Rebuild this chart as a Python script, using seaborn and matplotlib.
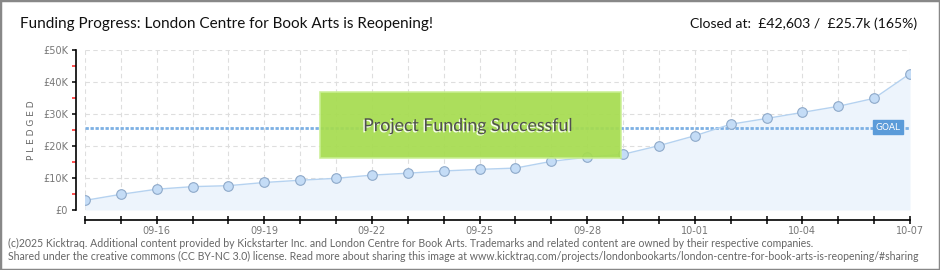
import matplotlib
matplotlib.use("Agg")
import matplotlib.pyplot as plt
import matplotlib.patheffects as pe
from matplotlib.patches import Rectangle
from matplotlib.ticker import FixedLocator, FuncFormatter
import seaborn as sns
import pandas as pd

# ---- data ----
dates = ["2025-09-14", "2025-09-15", "2025-09-16", "2025-09-17", "2025-09-18", "2025-09-19",
         "2025-09-20", "2025-09-21", "2025-09-22", "2025-09-23", "2025-09-24", "2025-09-25",
         "2025-09-26", "2025-09-27", "2025-09-28", "2025-09-29", "2025-09-30", "2025-10-01",
         "2025-10-02", "2025-10-03", "2025-10-04", "2025-10-05", "2025-10-06", "2025-10-07"]
pledged = [3000, 4900, 6500, 7300, 7600, 8600, 9300, 9900, 10900, 11500, 12200, 12700,
           13100, 15200, 16500, 17400, 20100, 23200, 26800, 28600, 30500, 32400, 34900, 42603]
goal = 25700
labelled_dates = ["2025-09-16", "2025-09-19", "2025-09-22", "2025-09-25", "2025-09-28",
                  "2025-10-01", "2025-10-04", "2025-10-07"]
y_ticks = [0, 10000, 20000, 30000, 40000, 50000]
y_minor = [5000, 15000, 25000, 35000, 45000]

title = "Funding Progress: London Centre for Book Arts is Reopening!"
closed = "Closed at:  £42,603 /  £25.7k (165%)"
footer1 = ("(c)2025 Kicktraq. Additional content provided by Kickstarter Inc. and London Centre for Book Arts. "
           "Trademarks and related content are owned by their respective companies.")
footer2 = ("Shared under the creative commons (CC BY-NC 3.0) license. Read more about sharing this image at "
           "www.kicktraq.com/projects/londonbookarts/london-centre-for-book-arts-is-reopening/#sharing")

df = pd.DataFrame({"date": pd.to_datetime(dates), "pledged": pledged})

sns.set_theme(style="white")
plt.rcParams["font.family"] = ["Lato", "DejaVu Sans"]

W, H = 940, 270
fig = plt.figure(figsize=(W / 100, H / 100), dpi=100)
ax = fig.add_axes([85 / W, (H - 210) / H, 825 / W, 160 / H])
ax.set_facecolor("none")

# fill + line + markers
ax.fill_between(df["date"], df["pledged"], 0, color="#edf4fc", zorder=1, linewidth=0)
sns.lineplot(data=df, x="date", y="pledged", ax=ax, color="#b5d2f0", linewidth=1, zorder=3)
sns.scatterplot(data=df, x="date", y="pledged", ax=ax, s=48, color="#c4dcf6",
                edgecolor="#8ea9c9", linewidth=0.8, zorder=4)

# goal line
ax.axhline(goal, color="#7cb0e4", linewidth=2.0, dashes=(1.2, 0.6), zorder=2)

ax.set_xlim(df["date"].iloc[0], df["date"].iloc[-1])
ax.set_ylim(0, 50000)

# grid
for d in df["date"]:
    ax.axvline(d, color="#dedede", linewidth=0.8, dashes=(4, 3), zorder=0)
for v in y_ticks:
    ax.axhline(v, color="#dedede", linewidth=0.8, dashes=(4, 3), zorder=0)

# spines
for s in ["top", "right"]:
    ax.spines[s].set_visible(False)
ax.spines["left"].set_position(("outward", 6.5))
ax.spines["bottom"].set_position(("outward", 7.2))
for s in ["left", "bottom"]:
    ax.spines[s].set_color("black")
    ax.spines[s].set_linewidth(1.2)

# y ticks
ax.yaxis.set_major_locator(FixedLocator(y_ticks))
ax.yaxis.set_minor_locator(FixedLocator(y_minor))
ax.yaxis.set_major_formatter(FuncFormatter(lambda v, p: "£0" if v == 0 else f"£{int(v/1000)}K"))
ax.tick_params(axis="y", which="major", left=True, length=3.2, width=1.1, color="black",
               labelsize=7, labelcolor="#777777", pad=2.5)
ax.tick_params(axis="y", which="minor", left=True, length=3.2, width=1.1, color="#ff2020")
for lab in ax.get_yticklabels():
    lab.set_family("DejaVu Sans")

# x ticks
ax.set_xticks(list(df["date"]))
lab_set = set(pd.to_datetime(labelled_dates))
ax.set_xticklabels([d.strftime("%m-%d") if d in lab_set else "" for d in df["date"]],
                   family="DejaVu Sans")
ax.tick_params(axis="x", which="major", bottom=True, direction="inout", length=6, width=1.1,
               color="black", labelsize=7, labelcolor="#777777", pad=1)
ax.set_xlabel("")
ax.set_ylabel("")

fig.text(31 / W, (H - 130) / H, "P L E D G E D", rotation=90, ha="center", va="center",
         fontsize=6.5, color="#666666", family="DejaVu Sans")

renderer = fig.canvas.get_renderer()


def fit(t, target_px, max_size):
    t.set_fontsize(max_size)
    w = t.get_window_extent(renderer=renderer).width
    if w > target_px:
        t.set_fontsize(max_size * target_px / w)
    return t


# green success box
fig.patches.append(Rectangle((320 / W, (H - 158) / H), 301 / W, 66 / H, transform=fig.transFigure,
                             facecolor="#a6dc50", edgecolor="#c9ef93", linewidth=1.2, alpha=0.93,
                             zorder=5))
bt = fig.text(468 / W, (H - 126) / H, "Project Funding Successful", ha="center", va="center",
              color="#505050", zorder=6,
              path_effects=[pe.withSimplePatchShadow(offset=(-1, -1), shadow_rgbFace="white", alpha=0.9)])
fit(bt, 210, 15)

# GOAL tag
fig.text(888 / W, (H - 127) / H, "GOAL", ha="center", va="center", fontsize=6.5, color="white",
         family="DejaVu Sans", zorder=7,
         bbox=dict(boxstyle="square,pad=0.3", facecolor="#5b9bd9", edgecolor="#5b9bd9"))

# titles
t1 = fig.text(20 / W, (H - 24) / H, title, ha="left", va="center", color="#111111")
fit(t1, 412, 12.5)
t2 = fig.text(917 / W, (H - 24) / H, closed, ha="right", va="center", color="#111111")
fit(t2, 228, 12.5)

# footer
f1 = fig.text(8 / W, (H - 243) / H, footer1, ha="left", va="center", color="#666666")
fit(f1, 805, 8)
f2 = fig.text(8 / W, (H - 256) / H, footer2, ha="left", va="center", color="#666666")
fit(f2, 912, 8)

# border
fig.patches.append(Rectangle((0, 0), 1, 1, transform=fig.transFigure, fill=False,
                             edgecolor="#888888", linewidth=2.5, zorder=10))

fig.savefig("out.png", dpi=100)
